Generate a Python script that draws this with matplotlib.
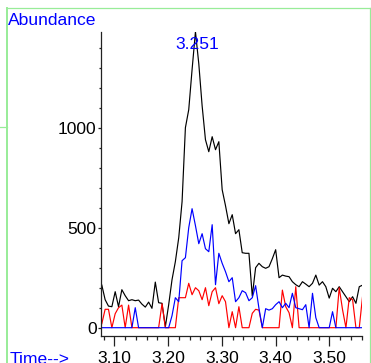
import matplotlib
matplotlib.use("Agg")
import matplotlib.pyplot as plt
from matplotlib.ticker import MultipleLocator, FixedLocator
from matplotlib.lines import Line2D

plt.rcParams["font.family"] = ["Liberation Sans", "DejaVu Sans"]

# scan times (min)
scan_times = [
    3.0768, 3.0830, 3.0892, 3.0955, 3.1017, 3.1079, 3.1141, 3.1203, 3.1266, 3.1328,
    3.1390, 3.1452, 3.1514, 3.1577, 3.1639, 3.1701, 3.1763, 3.1825, 3.1888, 3.1950,
    3.2012, 3.2074, 3.2136, 3.2199, 3.2261, 3.2323, 3.2385, 3.2447, 3.2510, 3.2572,
    3.2634, 3.2696, 3.2758, 3.2821, 3.2883, 3.2945, 3.3007, 3.3069, 3.3132, 3.3194,
    3.3256, 3.3318, 3.3380, 3.3443, 3.3505, 3.3567, 3.3629, 3.3691, 3.3754, 3.3816,
    3.3878, 3.3940, 3.4002, 3.4065, 3.4127, 3.4189, 3.4251, 3.4313, 3.4376, 3.4438,
    3.4500, 3.4562, 3.4624, 3.4687, 3.4749, 3.4811, 3.4873, 3.4935, 3.4998, 3.5060,
    3.5122, 3.5184, 3.5246, 3.5309, 3.5371, 3.5433, 3.5495, 3.5557, 3.5620,
]

# total ion abundance
tic = [
    213, 140, 108, 105, 180, 105, 190, 160, 135, 140,
    135, 138, 118, 103, 128, 97, 228, 125, 122, 5,
    115, 240, 330, 450, 630, 1000, 1090, 1290, 1480, 1320,
    1110, 940, 880, 955, 890, 930, 690, 610, 520, 565,
    470, 490, 375, 372, 372, 158, 300, 322, 305, 297,
    305, 345, 390, 250, 263, 258, 255, 230, 215, 205,
    230, 218, 205, 222, 263, 213, 230, 205, 148, 197,
    180, 205, 180, 155, 130, 155, 122, 205, 213,
]

# extracted ion traces
ion_blue = [
    0, 0, 0, 0, 0, 0, 0, 0, 0, 0,
    100, 0, 0, 0, 0, 0, 0, 0, 0, 0,
    0, 60, 150, 130, 335, 350, 500, 595, 510, 420,
    470, 395, 380, 515, 215, 372, 322, 280, 230, 250,
    130, 150, 185, 175, 135, 150, 210, 97, 0, 95,
    88, 95, 115, 130, 100, 122, 100, 172, 100, 95,
    90, 115, 0, 172, 50, 0, 0, 0, 0, 80,
    0, 0, 0, 0, 0, 0, 0, 0, 0,
]

ion_red = [
    20, 92, 92, 0, 70, 100, 113, 0, 113, 0,
    0, 0, 0, 0, 0, 0, 0, 0, 120, 0,
    0, 0, 0, 150, 150, 150, 222, 165, 200, 185,
    140, 200, 110, 180, 200, 120, 160, 130, 0, 80,
    0, 105, 0, 0, 0, 72, 92, 88, 0, 0,
    0, 0, 0, 0, 188, 105, 75, 0, 205, 0,
    0, 0, 0, 0, 0, 0, 0, 0, 0, 0,
    0, 200, 90, 0, 150, 140, 0, 0, 160,
]

peak_time = 3.251
peak_label = "3.251"

W, H = 371, 363
fig = plt.figure(figsize=(W / 100, H / 100), dpi=100)
ax = fig.add_axes([101 / W, 1 - 336 / H, 261 / W, 304 / H])

ax.plot(scan_times, tic, color="black", lw=0.85)
ax.plot(scan_times, ion_red, color="#ff0000", lw=0.85)
ax.plot(scan_times, ion_blue, color="#0000ff", lw=0.85)

ax.set_xlim(3.0753, 3.5608)
ax.set_ylim(-41.5, 1478.5)

for side in ("top", "right"):
    ax.spines[side].set_visible(False)
for side in ("left", "bottom"):
    ax.spines[side].set_linewidth(0.9)
    ax.spines[side].set_color("#222222")

fs = 12.6
ax.xaxis.set_major_locator(FixedLocator([3.10, 3.20, 3.30, 3.40, 3.50]))
ax.xaxis.set_minor_locator(MultipleLocator(0.02))
ax.set_xticklabels(["3.10", "3.20", "3.30", "3.40", "3.50"])
ax.yaxis.set_major_locator(FixedLocator([0, 500, 1000]))
ax.yaxis.set_minor_locator(MultipleLocator(100))
ax.set_yticklabels(["0", "500", "1000"])

ax.tick_params(axis="x", which="major", direction="out", length=7.5, width=0.9,
               pad=3.0, labelsize=fs, color="#222222")
ax.tick_params(axis="x", which="minor", direction="out", length=3.2, width=0.9,
               color="#222222")
ax.tick_params(axis="y", which="major", direction="out", length=2.2, width=0.9,
               pad=1.0, labelsize=fs, color="#222222")
ax.tick_params(axis="y", which="minor", direction="out", length=1.3, width=0.9,
               color="#222222")

# apex retention time label
ax.annotate(peak_label, xy=(peak_time, 1392), xytext=(1.2, 0),
            textcoords="offset points", ha="center", va="baseline",
            color="#0000ff", fontsize=fs, annotation_clip=False)

fig.text(8.3 / W, 1 - 25 / H, "Abundance", color="#0000ff", fontsize=fs,
         ha="left", va="baseline")
fig.text(10 / W, 1 - 363.8 / H, "Time-->", color="#0000ff", fontsize=fs,
         ha="left", va="baseline")

# light green panel frame
green = "#98ec98"
def px_line(x0, y0, x1, y1, lw):
    fig.add_artist(Line2D([x0 / W, x1 / W], [1 - y0 / H, 1 - y1 / H],
                          transform=fig.transFigure, color=green, lw=lw))

px_line(7, 8.3, 371, 8.3, 0.9)
px_line(7, 8.3, 7, 363, 1.4)
px_line(370.3, 8.3, 370.3, 363, 0.9)
px_line(0, 127, 7, 127, 0.9)

fig.savefig("out.png", dpi=100)
